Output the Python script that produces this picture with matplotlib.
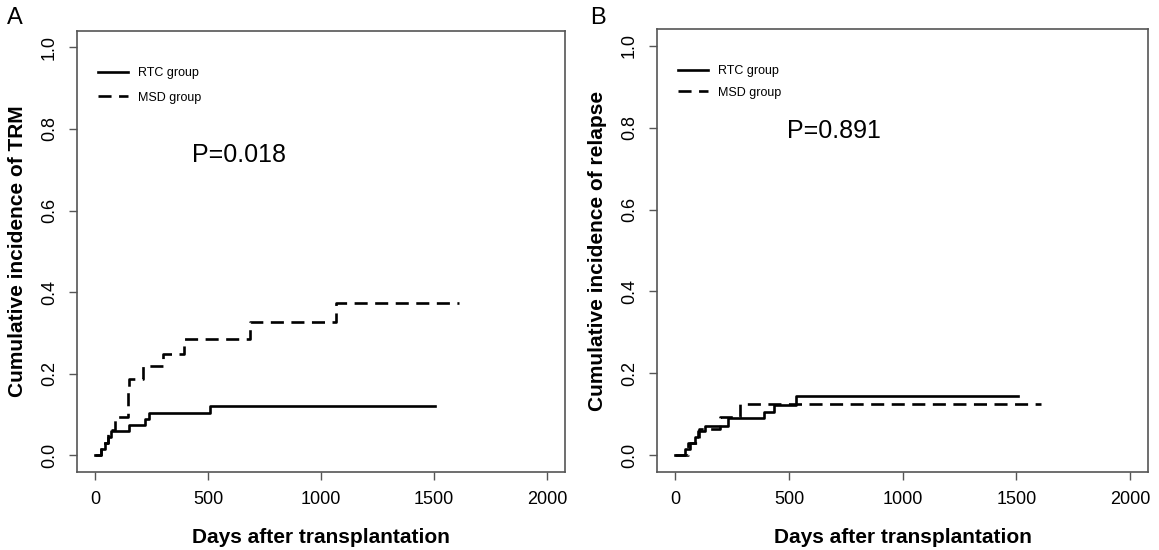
import matplotlib.pyplot as plt

plt.rcParams['font.family'] = ['Liberation Sans Narrow', 'Liberation Sans', 'DejaVu Sans']
plt.rcParams['lines.scale_dashes'] = False

# Panel A: cumulative incidence of TRM (step times in days, values)
trm_rtc_t = [0, 26, 41, 55, 70, 149, 222, 237, 509, 1505]
trm_rtc_v = [0.0, 0.015, 0.030, 0.045, 0.060, 0.075, 0.090, 0.105, 0.121, 0.121]
trm_msd_t = [0, 25, 55, 86, 143, 145, 147, 211, 299, 391, 687, 1066, 1609]
trm_msd_v = [0.0, 0.031, 0.063, 0.094, 0.125, 0.156, 0.188, 0.218, 0.249, 0.284, 0.326, 0.373, 0.373]

# Panel B: cumulative incidence of relapse
rel_rtc_t = [0, 42, 64, 86, 100, 130, 232, 389, 433, 530, 1508]
rel_rtc_v = [0.0, 0.015, 0.029, 0.045, 0.060, 0.072, 0.090, 0.106, 0.123, 0.145, 0.145]
rel_msd_t = [0, 55, 105, 196, 283, 1610]
rel_msd_v = [0.0, 0.031, 0.063, 0.094, 0.125, 0.125]

xticks = [0, 500, 1000, 1500, 2000]
yticks = [0.0, 0.2, 0.4, 0.6, 0.8, 1.0]

fig = plt.figure(figsize=(11.59, 5.5), dpi=100)
axA = fig.add_axes([0.0667, 0.1424, 0.4208, 0.8013])
axB = fig.add_axes([0.5671, 0.1424, 0.4236, 0.8044])

dash = (9.4, 5.4)
gray = '#555555'
plain = ['Liberation Sans', 'DejaVu Sans']


def setup(ax, ylabel):
    ax.set_xlim(-80, 2080)
    ax.set_ylim(-0.04, 1.04)
    ax.set_xticks(xticks)
    ax.set_xticklabels([str(t) for t in xticks], fontsize=13)
    ax.set_yticks(yticks)
    ax.set_yticklabels(['%.1f' % t for t in yticks], fontsize=13, rotation=90, va='center')
    ax.tick_params(length=6, width=1, color=gray, pad=8)
    for s in ax.spines.values():
        s.set_color(gray)
        s.set_linewidth(1.2)
    ax.set_xlabel('Days after transplantation', fontsize=15, fontweight='bold', labelpad=14)
    ax.set_ylabel(ylabel, fontsize=15, fontweight='bold', labelpad=10)


setup(axA, 'Cumulative incidence of TRM')
axA.step(trm_rtc_t, trm_rtc_v, where='post', color='black', lw=1.9, label='RTC group')
axA.step(trm_msd_t, trm_msd_v, where='post', color='black', lw=1.9, dashes=dash, label='MSD group')
axA.legend(loc='upper left', bbox_to_anchor=(0.02, 0.943), frameon=False, fontsize=9,
           handlelength=2.4, labelspacing=1.0)
axA.text(426, 0.737, 'P=0.018', fontsize=18, va='center', family=plain)

setup(axB, 'Cumulative incidence of relapse')
axB.step(rel_rtc_t, rel_rtc_v, where='post', color='black', lw=1.9, label='RTC group')
axB.step(rel_msd_t, rel_msd_v, where='post', color='black', lw=1.9, dashes=dash, label='MSD group')
axB.legend(loc='upper left', bbox_to_anchor=(0.02, 0.944), frameon=False, fontsize=9,
           handlelength=2.4, labelspacing=0.75)
axB.text(490, 0.792, 'P=0.891', fontsize=18, va='center', family=plain)

fig.text(0.006, 0.967, 'A', fontsize=17, va='center', family=plain)
fig.text(0.509, 0.967, 'B', fontsize=17, va='center', family=plain)

fig.savefig('out.png', dpi=100)
